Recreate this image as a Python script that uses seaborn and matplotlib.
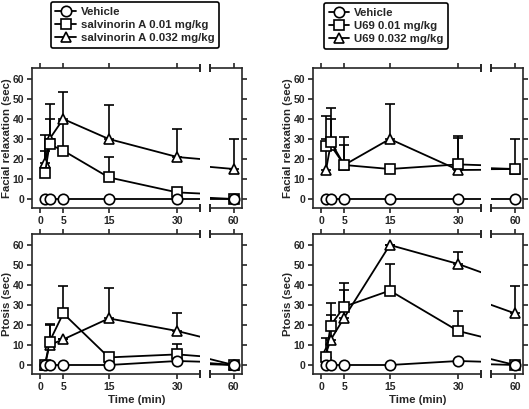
import matplotlib
matplotlib.use("Agg")
import matplotlib.pyplot as plt
import seaborn as sns
import pandas as pd
from matplotlib.lines import Line2D

# ---------------- data ----------------
time = [1, 2, 5, 15, 30, 60]
xticks_main = [0, 5, 15, 30]
xticks_break = [60]
yticks = [0, 10, 20, 30, 40, 50, 60]

groups_sal = ["Vehicle", "salvinorin A 0.01 mg/kg", "salvinorin A 0.032 mg/kg"]
groups_u69 = ["Vehicle", "U69 0.01 mg/kg", "U69 0.032 mg/kg"]

# Facial relaxation (sec) - salvinorin A
sal_fr_veh = [0, 0, 0, 0, 0, 0]
sal_fr_veh_err = [0, 0, 0, 0, 0, 0]
sal_fr_lo = [13, 27.3, 24.2, 10.8, 3.3, 0]
sal_fr_lo_err = [11, 12.7, 14.8, 10.4, 0.7, 0]
sal_fr_hi = [18, 30, 40, 30, 21, 15]
sal_fr_hi_err = [14, 17.5, 13.5, 17, 14, 15]

# Facial relaxation (sec) - U69
u69_fr_veh = [0, 0, 0, 0, 0, 0]
u69_fr_veh_err = [0, 0, 0, 0, 0, 0]
u69_fr_lo = [26.5, 28.7, 17, 15, 17.3, 15]
u69_fr_lo_err = [15, 16.6, 14.2, 0, 14.2, 15]
u69_fr_hi = [14.5, 27, 17, 30, 14.5, 15]
u69_fr_hi_err = [15.5, 13, 10, 17.5, 16, 0]

# Ptosis (sec) - salvinorin A
sal_pt_veh = [0, 0, 0, 0, 2, 0]
sal_pt_veh_err = [0, 0, 0, 0, 0, 0]
sal_pt_lo = [0, 11.7, 25.8, 3.8, 5.3, 0]
sal_pt_lo_err = [0, 8.6, 13.9, 0, 5.4, 0]
sal_pt_hi = [0, 10, 12.8, 23.3, 17, 0]
sal_pt_hi_err = [0, 10, 0, 15, 8.8, 0]

# Ptosis (sec) - U69
u69_pt_veh = [0, 0, 0, 0, 2, 0]
u69_pt_veh_err = [0, 0, 0, 0, 0, 0]
u69_pt_lo = [4.2, 19.7, 29.2, 37.2, 17, 0]
u69_pt_lo_err = [9.1, 11.1, 12, 13.3, 10, 0]
u69_pt_hi = [5.8, 12.5, 23.7, 60, 50.5, 25.8]
u69_pt_hi_err = [0, 12.5, 13.8, 0, 6.2, 13.7]

# ---------------- style ----------------
sns.set_style("ticks")
plt.rcParams["font.family"] = ["Liberation Sans", "DejaVu Sans"]
plt.rcParams["font.weight"] = "bold"
plt.rcParams["axes.labelweight"] = "bold"
FS = 8.2
TFS = 7.5
LW = 1.2

fig = plt.figure(figsize=(5.29, 4.09), dpi=100)
W, H = 529.0, 409.0


def rect(x0, y_top, x1, y_bot):
    return [x0 / W, 1 - y_bot / H, (x1 - x0) / W, (y_bot - y_top) / H]


def panel(xl, xb, xr, ytop, ybot, groups, means, errs, ylabel, xlabel):
    x_main_end = xb - 10
    ax = fig.add_axes(rect(xl, ytop, x_main_end, ybot))
    bx = fig.add_axes(rect(xb, ytop, xr, ybot))
    rows = []
    for g, m in zip(groups, means):
        for t, v in zip(time, m):
            rows.append({"Time": t, "Value": v, "Group": g})
    df = pd.DataFrame(rows)
    markers = {groups[0]: "o", groups[1]: "s", groups[2]: "^"}
    order = [groups[2], groups[1], groups[0]]
    for a in (ax, bx):
        for m, e in zip(means, errs):
            a.errorbar(time, m, yerr=[[0] * len(e), e], fmt="none", ecolor="black",
                       elinewidth=LW, capsize=3.6, capthick=LW, zorder=2)
        sns.lineplot(data=df, x="Time", y="Value", style="Group", style_order=order,
                     markers=markers, dashes=False, color="black", linewidth=1.3,
                     markersize=7.5, markerfacecolor="white", markeredgecolor="black",
                     markeredgewidth=LW, legend=False, errorbar=None, ax=a, zorder=3)
        a.set_ylim(-4.5, 65.5)
        a.set_yticks(yticks)
        a.set_xlabel("")
        a.set_ylabel("")
        for s in a.spines.values():
            s.set_linewidth(LW)
        a.tick_params(width=LW, length=3.8, labelsize=TFS, pad=2, direction="out")
    ax.set_xlim(-1.85, 35.0)
    bx.set_xlim(54.8, 61.75)
    ax.spines["right"].set_visible(False)
    bx.spines["left"].set_visible(False)
    ax.set_xticks(xticks_main)
    ax.set_xticklabels([str(v) for v in xticks_main])
    bx.set_xticks(xticks_break)
    bx.set_xticklabels([str(v) for v in xticks_break])
    ax.tick_params(axis="x", top=True, bottom=True, labeltop=False)
    bx.tick_params(axis="x", top=True, bottom=True, labeltop=False)
    ax.tick_params(axis="y", left=True, right=False)
    bx.tick_params(axis="y", left=False, right=True, labelleft=False, labelright=False)
    ax.set_ylabel(ylabel, fontsize=FS)
    ax.yaxis.set_label_coords(-0.122, 0.5)
    # break markers
    ax.plot([1, 1], [0, 1], transform=ax.transAxes, ls="none", marker="|", ms=6,
            mew=LW, color="black", clip_on=False)
    bx.plot([0, 0], [0, 1], transform=bx.transAxes, ls="none", marker="|", ms=6,
            mew=LW, color="black", clip_on=False)
    if xlabel:
        fig.text((xl + xr) / 2 / W, 1 - 400 / H, xlabel, ha="center", va="center",
                 fontsize=FS, fontweight="bold")
    return ax, bx


panel(32, 210, 241.7, 68, 208, groups_sal,
      [sal_fr_veh, sal_fr_lo, sal_fr_hi], [sal_fr_veh_err, sal_fr_lo_err, sal_fr_hi_err],
      "Facial relaxation (sec)", None)
panel(313, 491, 523, 68, 208, groups_u69,
      [u69_fr_veh, u69_fr_lo, u69_fr_hi], [u69_fr_veh_err, u69_fr_lo_err, u69_fr_hi_err],
      "Facial relaxation (sec)", None)
panel(32, 210, 241.7, 234, 374, groups_sal,
      [sal_pt_veh, sal_pt_lo, sal_pt_hi], [sal_pt_veh_err, sal_pt_lo_err, sal_pt_hi_err],
      "Ptosis (sec)", "Time (min)")
panel(313, 491, 523, 234, 374, groups_u69,
      [u69_pt_veh, u69_pt_lo, u69_pt_hi], [u69_pt_veh_err, u69_pt_lo_err, u69_pt_hi_err],
      "Ptosis (sec)", "Time (min)")


def make_legend(groups, x, y):
    mk = ["o", "s", "^"]
    handles = [Line2D([0], [0], color="black", lw=1.3, marker=m, markersize=7.5,
                      markerfacecolor="white", markeredgecolor="black", markeredgewidth=LW)
               for m in mk]
    leg = fig.legend(handles, groups, loc="upper left", bbox_to_anchor=(x / W, 1 - y / H),
                     borderaxespad=0, fontsize=FS, frameon=True, fancybox=True,
                     edgecolor="black", framealpha=1, handlelength=1.8, handletextpad=0.45,
                     labelspacing=0.3, borderpad=0.4)
    leg.get_frame().set_linewidth(LW)
    for t in leg.get_texts():
        t.set_fontweight("bold")
    return leg


make_legend(groups_sal, 50.7, 2)
make_legend(groups_u69, 324, 3)

fig.savefig("out.png", dpi=100)
